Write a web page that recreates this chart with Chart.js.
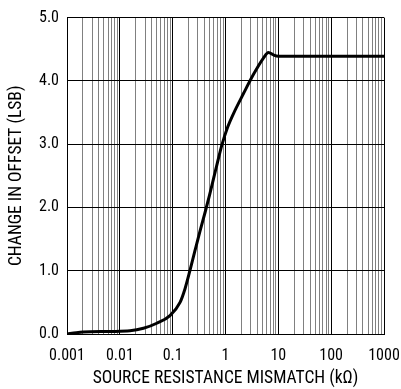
<!DOCTYPE html>
<html>
<head>
<meta charset="utf-8">
<script src="https://cdn.jsdelivr.net/npm/chart.js@4/dist/chart.umd.min.js"></script>
<style>
  html, body { margin: 0; padding: 0; background: #fff; }
  #wrap { width: 401px; height: 389px; position: relative; }
</style>
</head>
<body>
<div id="wrap"><canvas id="offsetChart"></canvas></div>
<script>
// source resistance mismatch (kOhm) and change in offset (LSB)
const resistance = [0.001, 0.0015, 0.002, 0.0065, 0.0156, 0.028, 0.05, 0.089, 0.138, 0.172, 0.212, 0.265, 0.33, 0.41, 0.5, 0.6, 0.7, 0.85, 1.1, 1.41, 2.19, 3.37, 5.22, 6.5, 8.1, 10, 100, 1000];
const offsetLsb  = [0.0, 0.02, 0.03, 0.04, 0.05, 0.09, 0.17, 0.29, 0.5, 0.72, 1.0, 1.32, 1.63, 1.92, 2.2, 2.47, 2.7, 2.98, 3.27, 3.48, 3.8, 4.1, 4.36, 4.45, 4.41, 4.39, 4.39, 4.39];
const xDecades = [0.001, 0.01, 0.1, 1, 10, 100, 1000];
const xDecadeLabels = ['0.001', '0.01', '0.1', '1', '10', '100', '1000'];
const yTicks = [0, 1, 2, 3, 4, 5];

const FONT = '"Roboto Condensed", "Liberation Sans Narrow", Roboto, sans-serif';

function isDecade(v) {
    const e = Math.log10(v);
    return Math.abs(e - Math.round(e)) < 1e-9;
}

document.addEventListener('DOMContentLoaded', function() {
    const ctx = document.getElementById('offsetChart');

    new Chart(ctx, {
        type: 'line',
        data: {
            datasets: [{
                data: resistance.map((r, i) => ({ x: r, y: offsetLsb[i] })),
                borderColor: '#000',
                borderWidth: 3,
                pointRadius: 0,
                cubicInterpolationMode: 'monotone',
                fill: false
            }]
        },
        options: {
            responsive: true,
            maintainAspectRatio: false,
            animation: false,
            layout: { padding: { top: 16, right: 17, left: 6, bottom: 0 } },
            plugins: { legend: { display: false }, tooltip: { enabled: false } },
            scales: {
                x: {
                    type: 'logarithmic',
                    min: 0.001,
                    max: 1000,
                    afterBuildTicks: function(scale) {
                        // 1..9 in every decade, so every grid line is drawn
                        const t = [];
                        for (let e = -3; e <= 3; e++) {
                            for (let m = 1; m <= 9; m++) {
                                t.push({ value: parseFloat((m * Math.pow(10, e)).toPrecision(6)) });
                                if (e === 3) break;
                            }
                        }
                        scale.ticks = t;
                    },
                    afterFit: function(scale) {
                        scale.height = 55;
                        // "1000" may hang past the plot edge, the layout padding covers it
                        scale.paddingLeft = 0;
                        scale.paddingRight = 0;
                    },
                    grid: {
                        drawTicks: false,
                        color: c => isDecade(c.tick.value) ? '#000' : '#808080',
                        lineWidth: 1
                    },
                    border: { display: true, color: '#000', width: 1 },
                    ticks: {
                        autoSkip: false,
                        maxRotation: 0,
                        padding: 12,
                        color: '#000',
                        font: { family: FONT, size: 16 },
                        callback: function(value) {
                            const i = xDecades.findIndex(d => Math.abs(d - value) < d * 1e-6);
                            return i >= 0 ? xDecadeLabels[i] : '';
                        }
                    },
                    title: {
                        display: true,
                        text: 'SOURCE RESISTANCE MISMATCH (kΩ)',
                        color: '#000',
                        font: { family: FONT, size: 17.5 },
                        padding: { top: 4, bottom: 0 }
                    }
                },
                y: {
                    min: 0,
                    max: 5,
                    afterBuildTicks: function(scale) {
                        scale.ticks = yTicks.map(v => ({ value: v }));
                    },
                    afterFit: function(scale) { scale.width = 61; },
                    grid: { drawTicks: false, color: '#000', lineWidth: 1 },
                    border: { display: true, color: '#000', width: 1 },
                    ticks: {
                        padding: 8,
                        color: '#000',
                        font: { family: FONT, size: 16 },
                        callback: v => Number(v).toFixed(1)
                    },
                    title: {
                        display: true,
                        text: 'CHANGE IN OFFSET (LSB)',
                        color: '#000',
                        font: { family: FONT, size: 17.5 },
                        padding: { top: 0, bottom: 4 }
                    }
                }
            }
        }
    });
});
</script>
</body>
</html>
